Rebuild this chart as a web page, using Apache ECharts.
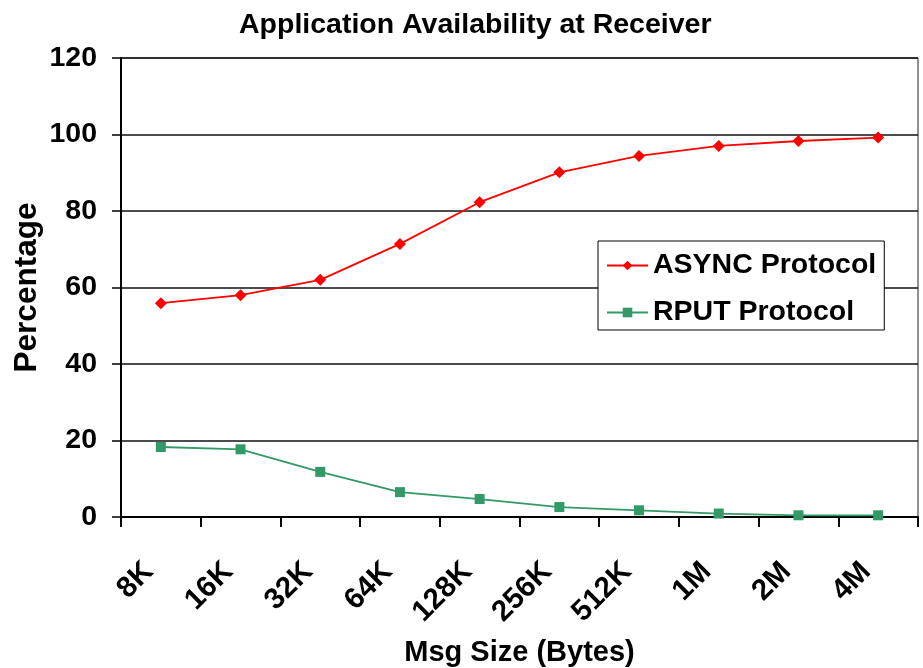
<!DOCTYPE html>
<html>
<head>
<meta charset="utf-8">
<script src="https://cdn.jsdelivr.net/npm/echarts@6/dist/echarts.min.js"></script>
<style>
  html, body { margin: 0; padding: 0; background: #fff; }
  #chart { width: 923px; height: 668px; }
</style>
</head>
<body>
<div id="chart"></div>
<script>
// Message sizes on the x axis
var msgSizes = ['8K', '16K', '32K', '64K', '128K', '256K', '512K', '1M', '2M', '4M'];
// Availability (%) at the receiver for each protocol
var asyncValues = [55.9, 58.0, 62.0, 71.4, 82.3, 90.1, 94.4, 97.0, 98.3, 99.2];
var rputValues = [18.3, 17.7, 11.8, 6.5, 4.7, 2.6, 1.75, 0.9, 0.45, 0.45];
// Y axis range
var yMin = 0, yMax = 120, yStep = 20;

var FONT = '"Liberation Sans", Arial, sans-serif';

var chart = echarts.init(document.getElementById('chart'), null, { renderer: 'canvas' });
chart.setOption({
  animation: false,
  backgroundColor: '#fff',
  textStyle: { fontFamily: FONT },
  title: {
    text: 'Application Availability at Receiver',
    left: 234,
    top: 6,
    textStyle: { fontFamily: FONT, fontWeight: 'bold', fontSize: 28.5, color: '#000' }
  },
  legend: {
    orient: 'vertical',
    left: 598,
    top: 241,
    padding: [10, 8, 3, 8],
    itemGap: 18,
    itemWidth: 41,
    itemHeight: 12,
    backgroundColor: '#fff',
    borderColor: '#000',
    borderWidth: 1,
    textStyle: { fontFamily: FONT, fontWeight: 'bold', fontSize: 28.5, color: '#000' },
    data: ['ASYNC Protocol', 'RPUT Protocol']
  },
  grid: {
    left: 121, right: 5, top: 58, bottom: 151,
    show: true,
    borderColor: '#222',
    borderWidth: 1,
    containLabel: false,
    outerBoundsMode: 'none'
  },
  xAxis: {
    type: 'category',
    data: msgSizes,
    boundaryGap: true,
    name: 'Msg Size (Bytes)',
    nameLocation: 'middle',
    nameGap: 121,
    nameMoveOverlap: false,
    nameTextStyle: { fontFamily: FONT, fontWeight: 'bold', fontSize: 29, color: '#000' },
    axisLine: { lineStyle: { color: '#000', width: 2 } },
    axisTick: { show: true, length: 10, inside: false, lineStyle: { color: '#000', width: 2 } },
    axisLabel: {
      rotate: 45,
      margin: 38,
      padding: [0, 17, 0, 0],
      interval: 0,
      fontFamily: FONT, fontWeight: 'bold', fontSize: 29.5, color: '#000'
    },
    splitLine: { show: false }
  },
  yAxis: {
    type: 'value',
    min: yMin, max: yMax, interval: yStep,
    name: 'Percentage',
    nameLocation: 'middle',
    nameGap: 78,
    nameMoveOverlap: false,
    nameRotate: 90,
    nameTextStyle: { fontFamily: FONT, fontWeight: 'bold', fontSize: 31.5, color: '#000' },
    axisLine: { show: true, lineStyle: { color: '#000', width: 2 } },
    axisTick: { show: true, length: 9, inside: false, lineStyle: { color: '#000', width: 1.5 } },
    axisLabel: { margin: 24, fontFamily: FONT, fontWeight: 'bold', fontSize: 28.5, color: '#000' },
    splitLine: { show: true, lineStyle: { color: '#111', width: 1.5 } }
  },
  series: [
    {
      name: 'ASYNC Protocol',
      type: 'line',
      data: asyncValues,
      symbol: 'diamond',
      symbolSize: 12,
      color: '#ff0000',
      lineStyle: { color: '#ff0000', width: 1.8 },
      itemStyle: { color: '#ff0000' },
      z: 3
    },
    {
      name: 'RPUT Protocol',
      type: 'line',
      data: rputValues,
      symbol: 'rect',
      symbolSize: 10,
      color: '#339966',
      lineStyle: { color: '#339966', width: 1.8 },
      itemStyle: { color: '#339966' },
      z: 3
    }
  ]
});
</script>
</body>
</html>
